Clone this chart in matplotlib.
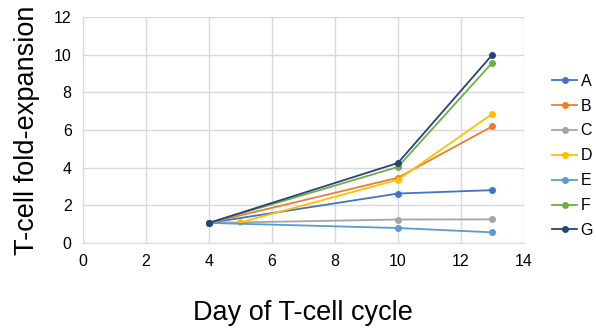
import matplotlib
matplotlib.use("Agg")
import matplotlib.pyplot as plt

plt.rcParams['font.family'] = ['Liberation Sans', 'DejaVu Sans']

labels = ['A', 'B', 'C', 'D', 'E', 'F', 'G']
colors = ['#4472C4', '#ED7D31', '#A5A5A5', '#FFC000', '#5B9BD5', '#70AD47', '#264478']

days = {
    'A': [4, 10, 13],
    'B': [4, 10, 13],
    'C': [4, 10, 13],
    'D': [5, 10, 13],
    'E': [4, 10, 13],
    'F': [4, 10, 13],
    'G': [4, 10, 13],
}
values = {
    'A': [1.07, 2.63, 2.81],
    'B': [1.07, 3.47, 6.2],
    'C': [1.07, 1.25, 1.26],
    'D': [1.1, 3.36, 6.86],
    'E': [1.07, 0.8, 0.57],
    'F': [1.07, 4.04, 9.58],
    'G': [1.07, 4.25, 10.0],
}

fig = plt.figure(figsize=(5.96, 3.33), dpi=100)
ax = fig.add_axes([0.139, 0.270, 0.740, 0.679])

for lab, col in zip(labels, colors):
    ax.plot(days[lab], values[lab], color=col, marker='o', markersize=4,
            linewidth=1.3, label=lab, zorder=3)

ax.set_xlim(0, 14)
ax.set_ylim(0, 12)
ax.set_xticks(range(0, 15, 2))
ax.set_yticks(range(0, 13, 2))
ax.grid(True, color='#D9D9D9', linewidth=1.0, zorder=0)
for s in ['top', 'right']:
    ax.spines[s].set_visible(False)
for s in ['left', 'bottom']:
    ax.spines[s].set_color('#D9D9D9')
ax.tick_params(length=0, labelsize=11.5, pad=8)

ax.set_ylabel('T-cell fold-expansion', fontsize=19.5, labelpad=10)
ax.set_xlabel('Day of T-cell cycle', fontsize=19.5, labelpad=22)

ax.legend(loc='center left', bbox_to_anchor=(0.915, 0.532), bbox_transform=fig.transFigure,
          frameon=False, fontsize=11.5, handlelength=1.6, handletextpad=0.2,
          labelspacing=0.62, borderaxespad=0)

fig.savefig('out.png', dpi=100)
